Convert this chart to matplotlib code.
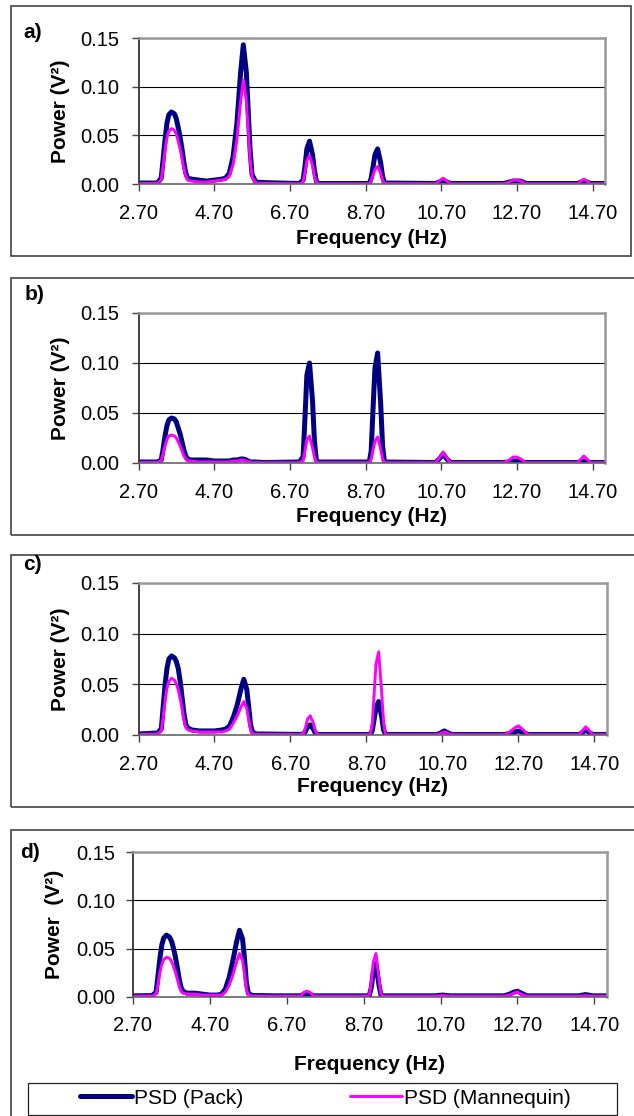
import matplotlib
matplotlib.use("Agg")
import matplotlib.pyplot as plt
from matplotlib.patches import Rectangle

plt.rcParams['font.family'] = ['Liberation Sans', 'DejaVu Sans']

# frequency bins (Hz), shared by all spectra
freq_hz = [
    2.70, 3.20,
    3.30, 3.35, 3.40, 3.45, 3.50, 3.57, 3.65, 3.70, 3.75, 3.80, 3.85, 3.90, 3.95, 4.00,
    4.10, 4.30, 4.50, 4.70, 4.90, 5.00,
    5.10, 5.20, 5.30, 5.40, 5.47, 5.55, 5.60, 5.65, 5.70, 5.80,
    6.00, 6.40, 6.95,
    7.05, 7.10, 7.15, 7.22, 7.30, 7.35, 7.40, 7.45,
    8.80, 8.85, 8.90, 8.95, 9.02, 9.10, 9.15, 9.20,
    10.55, 10.65, 10.75, 10.85, 10.95,
    12.35, 12.50, 12.60, 12.70, 12.80, 12.95,
    14.30, 14.40, 14.47, 14.55, 14.65, 15.03]

pack_a = [
    0.001, 0.001,
    0.006, 0.025, 0.045, 0.062, 0.071, 0.074, 0.072, 0.067, 0.058, 0.048, 0.036, 0.022, 0.011, 0.006,
    0.005, 0.004, 0.003, 0.004, 0.005, 0.006,
    0.011, 0.028, 0.062, 0.115, 0.143, 0.115, 0.075, 0.035, 0.010, 0.002,
    0.0015, 0.001, 0.0005,
    0.004, 0.018, 0.036, 0.044, 0.030, 0.014, 0.003, 0.0005,
    0.0005, 0.006, 0.018, 0.030, 0.036, 0.022, 0.008, 0.001,
    0.0005, 0.002, 0.004, 0.002, 0.0005,
    0.0005, 0.002, 0.003, 0.003, 0.003, 0.0005,
    0.0005, 0.002, 0.003, 0.002, 0.0005, 0.0005]
mann_a = [
    0.0005, 0.0008,
    0.004, 0.018, 0.034, 0.047, 0.054, 0.057, 0.055, 0.051, 0.044, 0.036, 0.026, 0.016, 0.008, 0.004,
    0.003, 0.002, 0.002, 0.003, 0.004, 0.005,
    0.008, 0.020, 0.045, 0.085, 0.107, 0.085, 0.055, 0.025, 0.007, 0.001,
    0.0008, 0.0005, 0.0003,
    0.002, 0.012, 0.024, 0.029, 0.019, 0.008, 0.002, 0.0003,
    0.0003, 0.003, 0.009, 0.015, 0.018, 0.011, 0.004, 0.0005,
    0.0003, 0.003, 0.006, 0.003, 0.0003,
    0.0003, 0.002, 0.004, 0.004, 0.003, 0.0003,
    0.0003, 0.003, 0.005, 0.003, 0.0003, 0.0003]

pack_b = [
    0.001, 0.001,
    0.003, 0.014, 0.027, 0.037, 0.043, 0.045, 0.044, 0.041, 0.035, 0.029, 0.021, 0.013, 0.007, 0.004,
    0.003, 0.003, 0.003, 0.002, 0.002, 0.002,
    0.002, 0.003, 0.003, 0.004, 0.004, 0.003, 0.002, 0.001, 0.001, 0.001,
    0.0005, 0.0007, 0.001,
    0.006, 0.045, 0.088, 0.100, 0.062, 0.022, 0.003, 0.001,
    0.001, 0.012, 0.055, 0.095, 0.110, 0.060, 0.018, 0.001,
    0.0005, 0.004, 0.009, 0.004, 0.0005,
    0.0005, 0.001, 0.002, 0.002, 0.001, 0.0005,
    0.0005, 0.0015, 0.002, 0.0015, 0.0005, 0.0005]
mann_b = [
    0.0005, 0.0005,
    0.002, 0.009, 0.017, 0.023, 0.027, 0.028, 0.027, 0.025, 0.021, 0.017, 0.012, 0.007, 0.004, 0.002,
    0.002, 0.001, 0.001, 0.001, 0.001, 0.001,
    0.001, 0.002, 0.002, 0.003, 0.003, 0.002, 0.001, 0.001, 0.0005, 0.0005,
    0.0003, 0.0003, 0.0003,
    0.002, 0.012, 0.023, 0.027, 0.015, 0.006, 0.001, 0.0003,
    0.0003, 0.004, 0.013, 0.022, 0.026, 0.014, 0.004, 0.0003,
    0.0003, 0.005, 0.011, 0.005, 0.0003,
    0.0003, 0.003, 0.006, 0.006, 0.004, 0.0003,
    0.0003, 0.004, 0.007, 0.004, 0.0003, 0.0003]

pack_c = [
    0.001, 0.002,
    0.006, 0.028, 0.050, 0.066, 0.075, 0.078, 0.076, 0.072, 0.065, 0.052, 0.036, 0.020, 0.010, 0.007,
    0.005, 0.004, 0.004, 0.004, 0.005, 0.006,
    0.009, 0.018, 0.030, 0.046, 0.055, 0.045, 0.028, 0.010, 0.003, 0.001,
    0.001, 0.0008, 0.0006,
    0.001, 0.004, 0.008, 0.010, 0.006, 0.002, 0.0005, 0.0005,
    0.0005, 0.004, 0.015, 0.027, 0.033, 0.018, 0.005, 0.0005,
    0.0005, 0.002, 0.004, 0.002, 0.0005,
    0.0005, 0.002, 0.003, 0.004, 0.003, 0.0005,
    0.0005, 0.003, 0.005, 0.003, 0.0005, 0.0005]
mann_c = [
    0.0005, 0.0008,
    0.004, 0.018, 0.034, 0.046, 0.053, 0.056, 0.054, 0.050, 0.044, 0.035, 0.025, 0.014, 0.007, 0.005,
    0.004, 0.003, 0.003, 0.003, 0.003, 0.004,
    0.006, 0.012, 0.019, 0.028, 0.033, 0.026, 0.015, 0.005, 0.001, 0.0005,
    0.0005, 0.0005, 0.0003,
    0.002, 0.008, 0.016, 0.019, 0.012, 0.005, 0.001, 0.0003,
    0.0003, 0.010, 0.040, 0.070, 0.082, 0.042, 0.012, 0.0003,
    0.0003, 0.0015, 0.003, 0.0015, 0.0003,
    0.0003, 0.004, 0.007, 0.009, 0.006, 0.0003,
    0.0003, 0.005, 0.008, 0.005, 0.0003, 0.0003]

pack_d = [
    0.0012, 0.0015,
    0.005, 0.022, 0.040, 0.054, 0.061, 0.064, 0.062, 0.058, 0.051, 0.042, 0.031, 0.019, 0.010, 0.006,
    0.004, 0.004, 0.003, 0.002, 0.002, 0.003,
    0.008, 0.020, 0.038, 0.058, 0.069, 0.060, 0.040, 0.015, 0.004, 0.0015,
    0.0015, 0.0012, 0.0012,
    0.0012, 0.002, 0.003, 0.003, 0.003, 0.002, 0.0012, 0.0012,
    0.0012, 0.002, 0.010, 0.026, 0.034, 0.012, 0.002, 0.0012,
    0.0012, 0.0016, 0.002, 0.0016, 0.0012,
    0.0012, 0.003, 0.005, 0.006, 0.004, 0.0012,
    0.0012, 0.002, 0.0025, 0.002, 0.0012, 0.0012]
mann_d = [
    0.0008, 0.001,
    0.003, 0.013, 0.025, 0.034, 0.039, 0.041, 0.040, 0.037, 0.032, 0.026, 0.019, 0.011, 0.006, 0.004,
    0.003, 0.003, 0.002, 0.002, 0.002, 0.002,
    0.005, 0.012, 0.023, 0.037, 0.045, 0.038, 0.024, 0.008, 0.002, 0.001,
    0.0008, 0.0008, 0.0008,
    0.001, 0.003, 0.005, 0.006, 0.005, 0.003, 0.001, 0.0008,
    0.0008, 0.003, 0.015, 0.036, 0.045, 0.018, 0.003, 0.0008,
    0.0008, 0.0012, 0.0015, 0.0012, 0.0008,
    0.0008, 0.002, 0.004, 0.005, 0.003, 0.0008,
    0.0008, 0.001, 0.0015, 0.001, 0.0008, 0.0008]

panel_names = ['a)', 'b)', 'c)', 'd)']
pack_series = [pack_a, pack_b, pack_c, pack_d]
mann_series = [mann_a, mann_b, mann_c, mann_d]
xtick_vals = [2.70, 4.70, 6.70, 8.70, 10.70, 12.70, 14.70]
ytick_vals = [0.00, 0.05, 0.10, 0.15]
ylabels = ['Power (V²)', 'Power (V²)', 'Power (V²)', 'Power  (V²)']
legend_labels = ['PSD (Pack)', 'PSD (Mannequin)']

PACK_COLOR = '#000080'
MANN_COLOR = '#FF00FF'

W, H = 634, 1116
fig = plt.figure(figsize=(W / 100, H / 100), dpi=100)

# layout in pixels: plot area (left, right, top, bottom), outer box, letter pos,
# ylabel centre x, xlabel centre y, tick pads
plot_px = [(138.5, 605, 38, 184), (138.5, 605, 313, 463),
           (138.5, 607, 583, 735), (133, 607, 852, 997)]
box_px = [(11, 6, 631, 256), (11, 278, 650, 535),
          (11, 555, 650, 807), (11, 830, 650, 1130)]
letter_px = [(23, 33), (25, 295), (23, 565), (20, 852)]
ylab_x = [61, 61, 61, 55]
xlab_y = [239, 517, 787, 1065]
xpad = [9.5, 9.5, 9.5, 8.5]
ypad = [9, 9, 9, 7.5]


def fx(px):
    return px / W


def fy(py):
    return 1 - py / H


axes = []
for i in range(4):
    l, r, t, b = plot_px[i]
    ax = fig.add_axes([fx(l), fy(b), (r - l) / W, (b - t) / H])
    axes.append(ax)

    ax.plot(freq_hz, pack_series[i], color=PACK_COLOR, lw=3.6,
            solid_joinstyle='round', solid_capstyle='round', label=legend_labels[0])
    ax.plot(freq_hz, mann_series[i], color=MANN_COLOR, lw=2.1,
            solid_joinstyle='round', solid_capstyle='round', label=legend_labels[1])

    ax.set_xlim(2.70, 15.03)
    ax.set_ylim(0, 0.15)
    ax.set_xticks(xtick_vals)
    ax.set_xticklabels([f"{v:.2f}" for v in xtick_vals])
    ax.set_yticks(ytick_vals)
    ax.set_yticklabels([f"{v:.2f}" for v in ytick_vals])
    ax.tick_params(axis='x', direction='out', length=5, width=1, color='#444444',
                   labelsize=14.5, pad=xpad[i])
    ax.tick_params(axis='y', direction='out', length=5, width=1, color='#444444',
                   labelsize=14.5, pad=ypad[i])

    ax.yaxis.grid(True, color='black', lw=0.8)
    ax.set_axisbelow(True)
    for side in ['top', 'right']:
        ax.spines[side].set_color('#999999')
        ax.spines[side].set_linewidth(1.8)
    ax.spines['left'].set_color('#333333')
    ax.spines['left'].set_linewidth(1.3)
    ax.spines['bottom'].set_color('#666666')
    ax.spines['bottom'].set_linewidth(1.2)

    ax.set_xlabel('Frequency (Hz)', fontsize=15, fontweight='bold', va='center')
    ax.xaxis.set_label_coords(0.5, (b - xlab_y[i]) / (b - t))
    ax.set_ylabel(ylabels[i], fontsize=15, fontweight='bold', va='center')
    ax.yaxis.set_label_coords((ylab_x[i] - l) / (r - l), 0.5)

    bx0, by0, bx1, by1 = box_px[i]
    fig.add_artist(Rectangle((fx(bx0), fy(by1)), (bx1 - bx0) / W, (by1 - by0) / H,
                             transform=fig.transFigure, fill=False,
                             ec='#333333', lw=1.1))
    lx, ly = letter_px[i]
    fig.text(fx(lx), fy(ly), panel_names[i], fontsize=15, fontweight='bold',
             ha='left', va='center')

# legend frame and entries
fig.add_artist(Rectangle((fx(27.5), fy(1115)), (617 - 27.5) / W, 32 / H,
                         transform=fig.transFigure, fill=False, ec='#222222', lw=0.9))
handles, labels = axes[3].get_legend_handles_labels()
fig.legend(handles, labels, loc='center left', bbox_to_anchor=(fx(80), fy(1098)),
           ncol=2, frameon=False, fontsize=15, borderpad=0, borderaxespad=0,
           handlelength=2.5, handletextpad=0.1, columnspacing=5.1)

fig.savefig('out.png', dpi=100)
